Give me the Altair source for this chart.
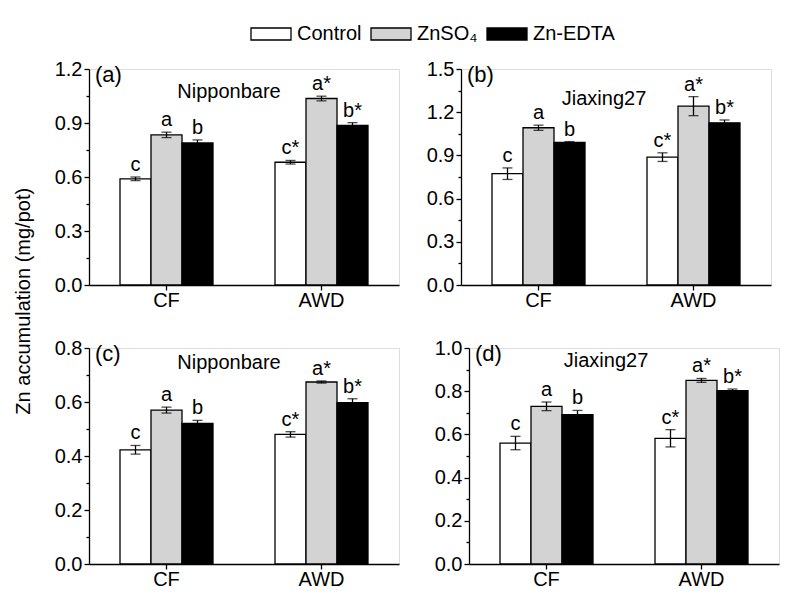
import altair as alt
import pandas as pd

waters = ["CF", "AWD"]
treatments = ["Control", "ZnSO₄", "Zn-EDTA"]
colors = ["#ffffff", "#d3d3d3", "#000000"]
letters = ["c", "a", "b", "c*", "a*", "b*"]

# order: CF Control, CF ZnSO4, CF Zn-EDTA, AWD Control, AWD ZnSO4, AWD Zn-EDTA
a_vals = [0.590, 0.834, 0.789, 0.682, 1.036, 0.887]
a_errs = [0.010, 0.015, 0.017, 0.010, 0.013, 0.015]
b_vals = [0.773, 1.092, 0.990, 0.888, 1.242, 1.126]
b_errs = [0.040, 0.018, 0.006, 0.030, 0.066, 0.020]
c_vals = [0.423, 0.570, 0.521, 0.480, 0.674, 0.598]
c_errs = [0.016, 0.011, 0.011, 0.010, 0.004, 0.014]
d_vals = [0.560, 0.730, 0.691, 0.582, 0.850, 0.802]
d_errs = [0.031, 0.020, 0.020, 0.040, 0.009, 0.008]

a_major = [0.0, 0.3, 0.6, 0.9, 1.2]
a_minor = [0.15, 0.45, 0.75, 1.05]
b_major = [0.0, 0.3, 0.6, 0.9, 1.2, 1.5]
b_minor = [0.15, 0.45, 0.75, 1.05, 1.35]
c_major = [0.0, 0.2, 0.4, 0.6, 0.8]
c_minor = [0.1, 0.3, 0.5, 0.7]
d_major = [0.0, 0.2, 0.4, 0.6, 0.8, 1.0]
d_minor = [0.1, 0.3, 0.5, 0.7, 0.9]

FONT = "Liberation Sans"
FS = 20
W, H = 310, 216


def make_df(vals, errs):
    rows = []
    i = 0
    for w in waters:
        for t in treatments:
            rows.append({"water": w, "treatment": t, "value": vals[i],
                         "lo": vals[i] - errs[i], "hi": vals[i] + errs[i],
                         "letter": letters[i]})
            i += 1
    return pd.DataFrame(rows)


def panel(vals, errs, major, minor, tag, cultivar, cult_x, cult_y, show_legend):
    df = make_df(vals, errs)
    ymax = major[-1]
    yscale = alt.Scale(domain=[0, ymax], nice=False, zero=True)
    xenc = alt.X("water:N", sort=waters,
                 scale=alt.Scale(paddingInner=0.4, paddingOuter=0.2),
                 axis=alt.Axis(title=None, labelAngle=0, tickSize=5, labelFontSize=FS,
                               labelFont=FONT, labelColor="black", domainColor="black",
                               tickColor="black", domainWidth=1.3, tickWidth=1.3,
                               labelPadding=0))
    xoff = alt.XOffset("treatment:N", sort=treatments,
                       scale=alt.Scale(paddingInner=0, paddingOuter=0))
    base = alt.Chart(df).encode(x=xenc, xOffset=xoff)

    legend = None
    if show_legend:
        legend = alt.Legend(title=None, orient="none", direction="horizontal",
                            legendX=161, legendY=-56,
                            symbolType="M-1,-0.3H1V0.3H-1Z", symbolSize=1600,
                            symbolStrokeColor="black", symbolStrokeWidth=1.3,
                            symbolOpacity=1, labelFontSize=FS, labelFont=FONT,
                            labelColor="black", labelOffset=5, columnPadding=6,
                            labelLimit=200)

    bars = base.mark_bar(stroke="black", strokeWidth=1.3).encode(
        y=alt.Y("value:Q", scale=yscale,
                axis=alt.Axis(orient="left", values=major, format=".1f", title=None,
                              tickSize=5, labelFontSize=FS, labelFont=FONT,
                              labelColor="black", domainColor="black", tickColor="black",
                              domainWidth=1.3, tickWidth=1.3, grid=False, labelPadding=2)),
        fill=alt.Fill("treatment:N", sort=treatments,
                      scale=alt.Scale(domain=treatments, range=colors), legend=legend),
    )
    rules = base.mark_rule(color="black", strokeWidth=1.3).encode(
        y=alt.Y("lo:Q", scale=yscale,
                axis=alt.Axis(orient="left", values=minor, labels=False, title=None,
                              tickSize=3, domain=False, tickColor="black",
                              tickWidth=1.3, grid=False)),
        y2="hi:Q",
    )
    cap_lo = base.mark_tick(color="black", orient="horizontal", size=10, thickness=1.3).encode(
        y=alt.Y("lo:Q", scale=yscale, axis=None))
    cap_hi = base.mark_tick(color="black", orient="horizontal", size=10, thickness=1.3).encode(
        y=alt.Y("hi:Q", scale=yscale, axis=None))
    text = base.mark_text(font=FONT, fontSize=FS, dy=-6, baseline="alphabetic",
                          color="black").encode(
        y=alt.Y("hi:Q", scale=yscale, axis=None), text="letter:N")

    tag_df = pd.DataFrame({"t": [tag]})
    tag_mark = alt.Chart(tag_df).mark_text(font=FONT, fontSize=22, align="left",
                                           baseline="middle", color="black").encode(
        x=alt.value(6), y=alt.value(6), text="t:N")
    cult_df = pd.DataFrame({"t": [cultivar]})
    cult_mark = alt.Chart(cult_df).mark_text(font=FONT, fontSize=FS, align="center",
                                             baseline="middle", color="black").encode(
        x=alt.value(cult_x), y=alt.value(cult_y), text="t:N")

    return alt.layer(bars, rules, cap_lo, cap_hi, text, tag_mark, cult_mark).resolve_axis(
        y="independent").properties(width=W, height=H)


pa = panel(a_vals, a_errs, a_major, a_minor, "(a)", "Nipponbare", 140, 23, True)
pb = panel(b_vals, b_errs, b_major, b_minor, "(b)", "Jiaxing27", 143, 30, False)
pc = panel(c_vals, c_errs, c_major, c_minor, "(c)", "Nipponbare", 140, 15, False)
pd_ = panel(d_vals, d_errs, d_major, d_minor, "(d)", "Jiaxing27", 137, 13, False)

chart = alt.vconcat(
    alt.hconcat(pa, pb, spacing=25),
    alt.hconcat(pc, pd_, spacing=33),
    spacing=26,
).properties(
    title=alt.TitleParams("Zn accumulation (mg/pot)", orient="left", anchor="middle",
                          fontSize=FS, font=FONT, fontWeight="normal", color="black",
                          offset=20)
).configure_view(stroke=None).configure(background="white")

chart.save("out.html", embed_options={"renderer": "svg", "actions": False})
